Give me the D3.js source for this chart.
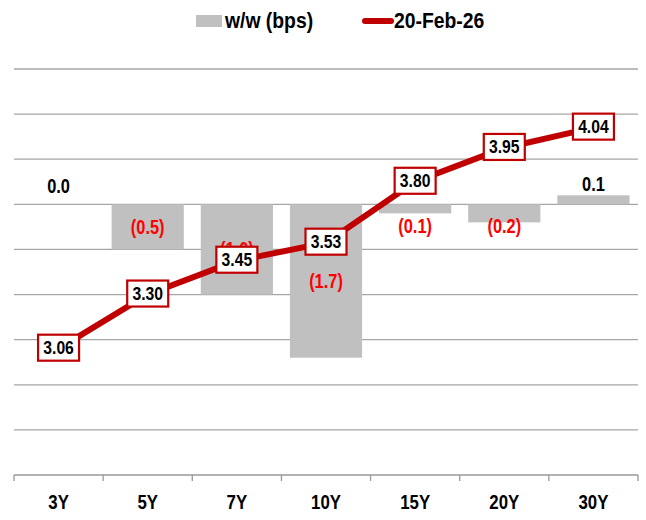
<!DOCTYPE html>
<html>
<head>
<meta charset="utf-8">
<script src="https://cdn.jsdelivr.net/npm/d3@7"></script>
<style>
  body { margin: 0; background: #fff; }
  text { font-family: "Liberation Sans", Arial, sans-serif; font-weight: bold; }
</style>
</head>
<body>
<div id="chart"></div>
<script>
// data
const tenors = ["3Y", "5Y", "7Y", "10Y", "15Y", "20Y", "30Y"];
const wowBps = [0.0, -0.5, -1.0, -1.7, -0.1, -0.2, 0.1];
const yields = [3.06, 3.30, 3.45, 3.53, 3.80, 3.95, 4.04];
const barTicks = [-3.0, -2.5, -2.0, -1.5, -1.0, -0.5, 0.0, 0.5, 1.0, 1.5];
const seriesNames = ["w/w (bps)", "20-Feb-26"];

const W = 646, H = 520;
const plot = { left: 14, right: 638, top: 69, bottom: 475 };

const svg = d3.select("#chart").append("svg")
    .attr("width", W)
    .attr("height", H);

// narrow bold look: squeeze text horizontally around its anchor
const squeeze = (px, py, sx) => `translate(${px},${py}) scale(${sx},1)`;

// scales
const x = d3.scaleBand().domain(tenors).range([plot.left, plot.right]).padding(0);
const yBar = d3.scaleLinear().domain([-3.0, 1.5]).range([plot.bottom, plot.top]);
const yLine = d3.scaleLinear().domain([2.5, 4.3]).range([plot.bottom, plot.top]);
const barW = x.bandwidth() * 0.81;
const cx = t => x(t) + x.bandwidth() / 2;

// gridlines
svg.append("g")
   .selectAll("line")
   .data(barTicks.filter(t => t > -3))
   .join("line")
   .attr("x1", plot.left).attr("x2", plot.right)
   .attr("y1", d => yBar(d)).attr("y2", d => yBar(d))
   .attr("stroke", "#a6a6a6")
   .attr("stroke-width", 1.3);

// bottom category axis
const xAxis = svg.append("g")
   .attr("transform", `translate(0,${plot.bottom})`);
xAxis.append("line")
   .attr("x1", plot.left).attr("x2", plot.right)
   .attr("stroke", "#999").attr("stroke-width", 1.3);
xAxis.selectAll("line.tick")
   .data(tenors.map(t => x(t)).concat([plot.right]))
   .join("line")
   .attr("class", "tick")
   .attr("x1", d => d).attr("x2", d => d)
   .attr("y1", 0).attr("y2", 6)
   .attr("stroke", "#999").attr("stroke-width", 1.3);
xAxis.selectAll("text")
   .data(tenors)
   .join("text")
   .attr("transform", d => squeeze(cx(d), 34, 0.82))
   .attr("text-anchor", "middle")
   .style("font-size", "20.5px")
   .text(d => d);

// bars
const barData = tenors.map((t, i) => ({ t, v: wowBps[i] }));
svg.append("g")
   .selectAll("rect")
   .data(barData)
   .join("rect")
   .attr("x", d => x(d.t) + (x.bandwidth() - barW) / 2)
   .attr("width", barW)
   .attr("y", d => yBar(Math.max(0, d.v)))
   .attr("height", d => Math.abs(yBar(d.v) - yBar(0)))
   .attr("fill", "#c0c0c0");

// bar labels
const fmtBar = v => v < 0 ? `(${d3.format(".1f")(-v)})` : d3.format(".1f")(v);
const barLabelY = d => d.v < 0
   ? Math.max((yBar(0) + yBar(d.v)) / 2, yBar(0) + 22) + 7
   : Math.min(yBar(d.v), yBar(0) - 7) - 4;
svg.append("g")
   .selectAll("text")
   .data(barData)
   .join("text")
   .attr("transform", d => squeeze(cx(d.t), barLabelY(d), 0.82))
   .attr("text-anchor", "middle")
   .attr("fill", d => d.v < 0 ? "#ff0000" : "#000")
   .style("font-size", "20px")
   .text(d => fmtBar(d.v));

// yield line
const lineData = tenors.map((t, i) => ({ t, v: yields[i] }));
const line = d3.line()
   .x(d => cx(d.t))
   .y(d => yLine(d.v));
svg.append("path")
   .datum(lineData)
   .attr("d", line)
   .attr("fill", "none")
   .attr("stroke", "#c00000")
   .attr("stroke-width", 6);

// yield labels in boxes
const lbl = svg.append("g")
   .selectAll("g")
   .data(lineData)
   .join("g")
   .attr("transform", d => `translate(${cx(d.t)},${yLine(d.v) - 1})`);
lbl.append("rect")
   .attr("x", -20.5).attr("y", -13)
   .attr("width", 41).attr("height", 26)
   .attr("fill", "#fff")
   .attr("stroke", "#c00000")
   .attr("stroke-width", 2.2);
lbl.append("text")
   .attr("transform", squeeze(0, 6.5, 0.85))
   .attr("text-anchor", "middle")
   .style("font-size", "18.5px")
   .text(d => d3.format(".2f")(d.v));

// legend
const leg = svg.append("g");
leg.append("rect")
   .attr("x", 196).attr("y", 15)
   .attr("width", 26).attr("height", 12)
   .attr("fill", "#c0c0c0");
leg.append("text")
   .attr("transform", squeeze(225, 28, 0.9))
   .style("font-size", "21.5px")
   .text(seriesNames[0]);
leg.append("line")
   .attr("x1", 365).attr("x2", 391)
   .attr("y1", 21).attr("y2", 21)
   .attr("stroke", "#c00000")
   .attr("stroke-width", 6)
   .attr("stroke-linecap", "round");
leg.append("text")
   .attr("transform", squeeze(394, 28, 0.9))
   .style("font-size", "21.5px")
   .text(seriesNames[1]);
</script>
</body>
</html>
